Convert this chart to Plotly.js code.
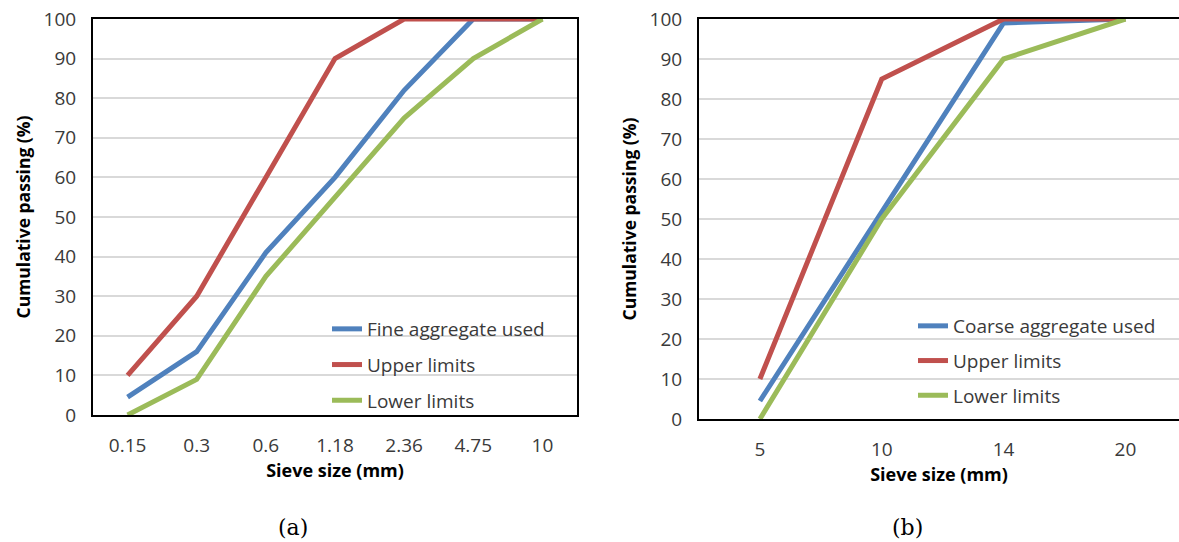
<!DOCTYPE html>
<html>
<head>
<meta charset="utf-8">
<script src="https://cdn.plot.ly/plotly-3.0.1.min.js"></script>
<style>html,body{margin:0;padding:0;background:#fff;}#chart{width:1179px;height:542px;}</style>
</head>
<body>
<div id="chart"></div>
<script>
// ---- data ----
var fineSizes = ['0.15', '0.3', '0.6', '1.18', '2.36', '4.75', '10'];
var fineUsed  = [4.5, 16, 41, 60, 82, 100, 100];
var fineUpper = [10, 30, 60, 90, 100, 100, 100];
var fineLower = [0, 9, 35, 55, 75, 90, 100];

var coarseSizes = ['5', '10', '14', '20'];
var coarseUsed  = [4.5, 52, 99, 100];
var coarseUpper = [10, 85, 100, 100];
var coarseLower = [0, 50, 90, 100];

var seriesNames = {fine: 'Fine aggregate used', coarse: 'Coarse aggregate used', upper: 'Upper limits', lower: 'Lower limits'};
var yTicks = [0, 10, 20, 30, 40, 50, 60, 70, 80, 90, 100];

// ---- styles ----
var BLUE = '#4F81BD', RED = '#C0504D', GREEN = '#9BBB59';
var W = 1179, H = 542;
var FONT = 'Open Sans, Lato, sans-serif';
var TICKCOL = '#3a3a3a';

function tr(x, y, name, color, xa, ya, leg, grp) {
  return {x: x, y: y, name: name, type: 'scatter', mode: 'lines',
    line: {color: color, width: 5}, xaxis: xa, yaxis: ya, legend: leg, legendgroup: grp};
}

var data = [
  tr(fineSizes, fineUsed, seriesNames.fine, BLUE, 'x', 'y', 'legend', 'a1'),
  tr(fineSizes, fineUpper, seriesNames.upper, RED, 'x', 'y', 'legend', 'a2'),
  tr(fineSizes, fineLower, seriesNames.lower, GREEN, 'x', 'y', 'legend', 'a3'),
  tr(coarseSizes, coarseUsed, seriesNames.coarse, BLUE, 'x2', 'y2', 'legend2', 'b1'),
  tr(coarseSizes, coarseUpper, seriesNames.upper, RED, 'x2', 'y2', 'legend2', 'b2'),
  tr(coarseSizes, coarseLower, seriesNames.lower, GREEN, 'x2', 'y2', 'legend2', 'b3')
];

function px(x) { return x / W; }
function py(y) { return (H - y) / H; }

function xAxis(dom, cats, range, anchor) {
  return {domain: dom, type: 'category', categoryorder: 'array', categoryarray: cats,
    range: range, anchor: anchor, showgrid: false, zeroline: false,
    showline: true, mirror: true, linecolor: '#000', linewidth: 2,
    ticks: '', ticklabelstandoff: 12,
    tickfont: {family: FONT, size: 19, color: TICKCOL},
    title: {text: '<b>Sieve size (mm)</b>', font: {family: FONT, size: 18, color: '#000'}, standoff: 8},
    fixedrange: true};
}
function yAxis(dom, anchor) {
  return {domain: dom, range: [0, 100], anchor: anchor, tickvals: yTicks,
    showgrid: true, gridcolor: '#D9D9D9', gridwidth: 2, zeroline: false,
    showline: true, mirror: true, linecolor: '#000', linewidth: 2,
    ticks: '', ticklabelstandoff: 11,
    tickfont: {family: FONT, size: 19, color: TICKCOL},
    title: {text: '<b>Cumulative passing (%)</b>', font: {family: FONT, size: 17.5, color: '#000'}, standoff: 8},
    fixedrange: true};
}

var legFont = {family: FONT, size: 19, color: TICKCOL};
var layout = {
  width: W, height: H,
  margin: {l: 0, r: 0, t: 0, b: 0},
  paper_bgcolor: '#fff', plot_bgcolor: '#fff',
  showlegend: true,
  xaxis: xAxis([px(93), px(577)], fineSizes, [-0.5, 6.5], 'y'),
  yaxis: yAxis([py(415), py(19)], 'x'),
  xaxis2: xAxis([px(699), 1], coarseSizes, [-0.5, 3.44], 'y2'),
  yaxis2: yAxis([py(419), py(19)], 'x2'),
  legend: {x: px(327), y: py(310), xanchor: 'left', yanchor: 'top', bgcolor: 'rgba(0,0,0,0)',
    font: legFont, tracegroupgap: 8, traceorder: 'grouped'},
  legend2: {x: px(913), y: py(307), xanchor: 'left', yanchor: 'top', bgcolor: 'rgba(0,0,0,0)',
    font: legFont, tracegroupgap: 7, traceorder: 'grouped'},
  annotations: [
    {text: '(a)', xref: 'paper', yref: 'paper', x: px(293), y: py(527), xanchor: 'center', yanchor: 'middle',
      showarrow: false, font: {family: 'DejaVu Serif, Liberation Serif, serif', size: 22, color: '#000'}},
    {text: '(b)', xref: 'paper', yref: 'paper', x: px(907), y: py(527), xanchor: 'center', yanchor: 'middle',
      showarrow: false, font: {family: 'DejaVu Serif, Liberation Serif, serif', size: 22, color: '#000'}}
  ]
};

Plotly.newPlot('chart', data, layout, {staticPlot: true, displayModeBar: false});
</script>
</body>
</html>
